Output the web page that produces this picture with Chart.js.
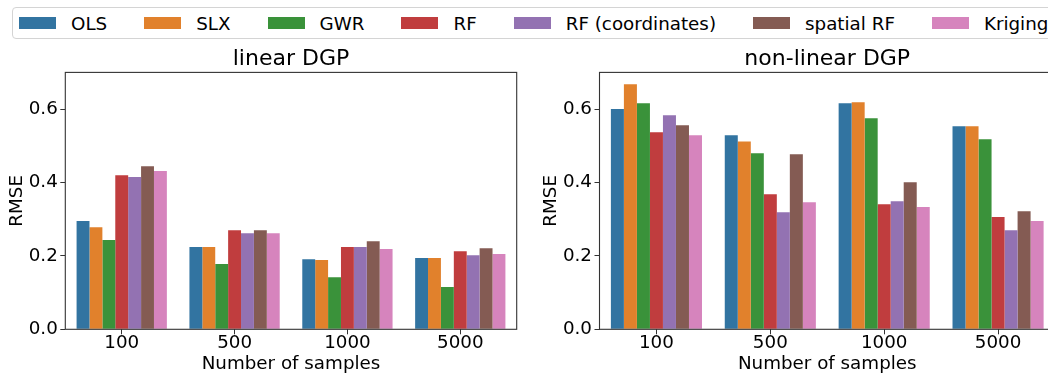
<!DOCTYPE html>
<html>
<head>
<meta charset="utf-8">
<script src="https://cdn.jsdelivr.net/npm/chart.js@4.4.1/dist/chart.umd.min.js"></script>
<style>
  body { margin: 0; width: 1048px; height: 376px; overflow: hidden; background: #fff; position: relative;
         font-family: 'DejaVu Sans', sans-serif; }
  #legend { position: absolute; left: 11.5px; top: 7px; height: 30px; width: 1100px; padding-left: 6.5px;
            border: 1px solid #d4d4d4; border-radius: 4px; display: flex; align-items: center;
            font-size: 18.3px; color: #000; }
  .item { display: flex; align-items: center; margin-right: 37px; white-space: nowrap; }
  .swatch { width: 37px; height: 12.7px; margin-right: 15px; }
  canvas { position: absolute; top: 45px; }
</style>
</head>
<body>
<div id="legend"></div>
<canvas id="linearChart" width="540" height="331" style="left:0px"></canvas>
<canvas id="nonlinearChart" width="540" height="331" style="left:534px"></canvas>
<script>
  // categories and tick labels
  const samples = ["100", "500", "1000", "5000"];
  const methods = ["OLS", "SLX", "GWR", "RF", "RF (coordinates)", "spatial RF", "Kriging"];
  const colors = ["#3274a1", "#e1812c", "#3a923a", "#c03d3e", "#9372b2", "#845b53", "#d684bd"];
  const yTicks = [0, 0.2, 0.4, 0.6];

  // RMSE, linear DGP (one value per sample size)
  const linearOLS     = [0.295, 0.224, 0.191, 0.194];
  const linearSLX     = [0.278, 0.224, 0.189, 0.194];
  const linearGWR     = [0.243, 0.178, 0.142, 0.115];
  const linearRF      = [0.420, 0.270, 0.224, 0.213];
  const linearRFcoord = [0.415, 0.262, 0.224, 0.202];
  const linearSpRF    = [0.444, 0.270, 0.240, 0.221];
  const linearKriging = [0.431, 0.262, 0.219, 0.205];

  // RMSE, non-linear DGP
  const nonlinOLS     = [0.600, 0.529, 0.616, 0.553];
  const nonlinSLX     = [0.668, 0.512, 0.619, 0.553];
  const nonlinGWR     = [0.616, 0.480, 0.575, 0.518];
  const nonlinRF      = [0.537, 0.368, 0.341, 0.306];
  const nonlinRFcoord = [0.583, 0.319, 0.349, 0.270];
  const nonlinSpRF    = [0.556, 0.477, 0.401, 0.322];
  const nonlinKriging = [0.529, 0.346, 0.333, 0.295];

  const FONT = "'DejaVu Sans', sans-serif";
  const AXIS = "#333";

  // shared legend on top
  const legend = document.getElementById("legend");
  methods.forEach((m, i) => {
    legend.innerHTML += `<div class="item"><div class="swatch" style="background:${colors[i]}"></div><span>${m}</span></div>`;
  });

  // draw the full box round the plot area (matplotlib spines)
  const framePlugin = {
    id: "frame",
    afterDatasetsDraw(chart) {
      const { ctx, chartArea: { left, top, right, bottom } } = chart;
      ctx.save();
      ctx.strokeStyle = AXIS;
      ctx.lineWidth = 1.1;
      ctx.strokeRect(left, top, right - left, bottom - top);
      ctx.restore();
    }
  };

  function makeChart(id, title, series, padRight, yAxisWidth) {
    const datasets = methods.map((m, i) => ({
      label: m,
      data: series[i],
      backgroundColor: colors[i],
      borderWidth: 0,
      categoryPercentage: 0.8,
      barPercentage: 1.0
    }));

    return new Chart(document.getElementById(id), {
      type: "bar",
      data: { labels: samples, datasets: datasets },
      options: {
        responsive: false,
        animation: false,
        layout: { padding: { left: 0, right: padRight, top: 0, bottom: 0 } },
        plugins: {
          legend: { display: false },
          tooltip: { enabled: false },
          title: {
            display: true,
            text: title,
            fullSize: false, // center over the plot area, not the canvas
            color: "#000",
            font: { family: FONT, size: 22, weight: "normal", lineHeight: 1.2 },
            padding: { top: 1, bottom: 0 }
          }
        },
        scales: {
          x: {
            grid: { offset: false, drawOnChartArea: false, drawTicks: true, tickLength: 5, color: AXIS },
            border: { display: false },
            ticks: { color: "#000", padding: 0, maxRotation: 0, font: { family: FONT, size: 18.3, lineHeight: 1 } },
            title: {
              display: true,
              text: "Number of samples",
              color: "#000",
              font: { family: FONT, size: 18.3, lineHeight: 1.2 },
              padding: { top: 0, bottom: 0.5 }
            },
            afterFit: s => { s.height = 46.7; }
          },
          y: {
            min: 0,
            max: 0.7,
            afterBuildTicks: s => { s.ticks = yTicks.map(v => ({ value: v })); },
            grid: { drawOnChartArea: false, drawTicks: true, tickLength: 5, color: AXIS },
            border: { display: false },
            ticks: {
              color: "#000",
              padding: 2.5,
              font: { family: FONT, size: 18.3, lineHeight: 1.2 },
              callback: v => Number(v).toFixed(1)
            },
            title: {
              display: true,
              text: "RMSE",
              color: "#000",
              font: { family: FONT, size: 18.3, lineHeight: 1.2 },
              padding: { top: 6.5, bottom: 0 }
            },
            afterFit: s => { s.width = yAxisWidth; }
          }
        }
      },
      plugins: [framePlugin]
    });
  }

  makeChart("linearChart", "linear DGP",
    [linearOLS, linearSLX, linearGWR, linearRF, linearRFcoord, linearSpRF, linearKriging], 23.3, 65.3);
  makeChart("nonlinearChart", "non-linear DGP",
    [nonlinOLS, nonlinSLX, nonlinGWR, nonlinRF, nonlinRFcoord, nonlinSpRF, nonlinKriging], 19, 65.5);
</script>
</body>
</html>
